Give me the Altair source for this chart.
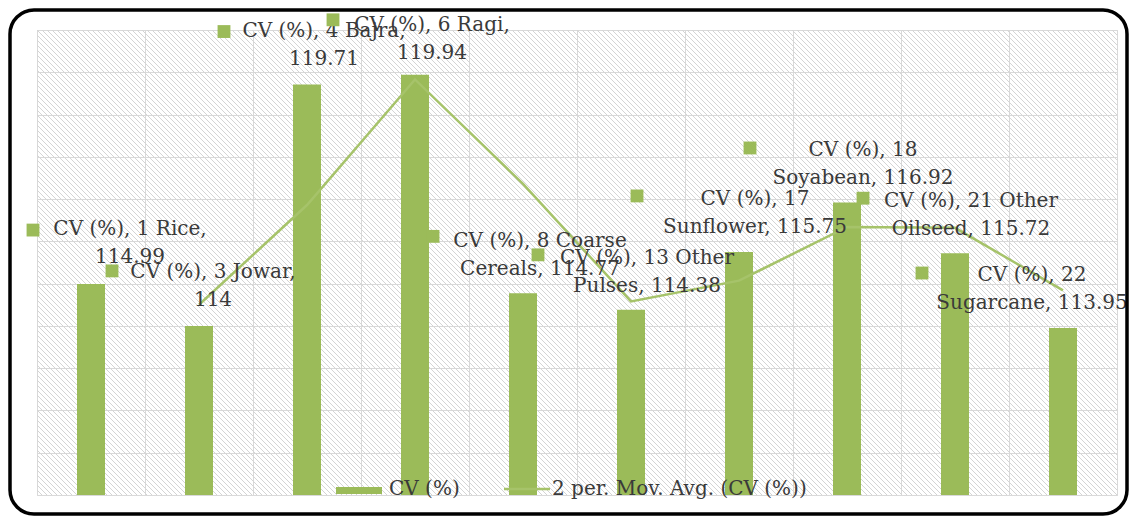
import altair as alt
import numpy as np
import pandas as pd

# ---------------- data ----------------
categories = ["1 Rice", "3 Jowar", "4 Bajra", "6 Ragi", "8 Coarse Cereals",
              "13 Other Pulses", "17 Sunflower", "18 Soyabean", "21 Other Oilseed",
              "22 Sugarcane"]
cv_values = [114.99, 114.00, 119.71, 119.94, 114.77, 114.38, 115.75, 116.92, 115.72, 113.95]
mov_avg = [None, 114.50, 116.86, 119.83, 117.36, 114.58, 115.07, 116.34, 116.32, 114.84]
series_name = "CV (%)"
legend_labels = ["CV (%)", "2 per. Mov. Avg. (CV (%))"]
y_ticks = list(range(110, 122))
# number of words on the first line of each data label
label_break_words = [4, 4, 4, 4, 4, 4, 3, 3, 4, 3]

# ---------------- styles ----------------
GREEN = "#9BBB59"
LINE_GREEN = "#A6C36A"
GRID = "#d9d9d9"
TEXT = "#3a3a3a"
FONT = "DejaVu Serif"
W, H = 1080, 465
# (dx, dy) of the first line of each label and of its legend-key square, relative to the bar top
label_offsets = [(39, -55), (14, -54), (17, -53.5), (17, -50), (17, -52), (16, -52),
                 (16, -53), (16, -52), (16, -52), (-31, -53.5)]
marker_offsets = [(-58, -54), (-87, -55), (-83, -53), (-82, -55), (-90, -57), (-93, -55),
                  (-102, -56), (-97, -54.5), (-92, -55), (-141, -55)]


def fmt(v):
    return f"{v:g}"


labels = []
for cat, v, k in zip(categories, cv_values, label_break_words):
    words = f"{series_name}, {cat}, {fmt(v)}".split(" ")
    labels.append(" ".join(words[:k]) + "\n" + " ".join(words[k:]))

df = pd.DataFrame({"category": categories, "cv": cv_values, "ma": mov_avg, "label": labels})

x_enc = alt.X("category:N", sort=categories,
              scale=alt.Scale(paddingInner=0, paddingOuter=0),
              axis=alt.Axis(labels=False, ticks=False, domain=False, title=None,
                            grid=True, gridColor=GRID, gridWidth=1, tickBand="extent"))
y_scale = alt.Scale(domain=[110, 121], nice=False, zero=False)
y_axis = alt.Axis(labels=False, ticks=False, domain=False, title=None, grid=True,
                  gridColor=GRID, gridWidth=1, values=y_ticks)

# background hatching (decoration)
hatch_start = np.arange(-H, W + 5, 5)
hatch_df = pd.DataFrame({"hx": hatch_start, "hx2": hatch_start + H,
                         "hy": 0, "hy2": H})
hatch = alt.Chart(hatch_df).mark_rule(color="#d4d4d4", strokeWidth=1, clip=True).encode(
    x=alt.X("hx:Q", scale=None, axis=None), x2="hx2:Q",
    y=alt.Y("hy:Q", scale=None, axis=None), y2="hy2:Q")

base = alt.Chart(df)
bars = base.mark_bar(size=28, color=GREEN, clip=True).encode(
    x=x_enc, y=alt.Y("cv:Q", scale=y_scale, axis=y_axis))
line = base.mark_line(color=LINE_GREEN, strokeWidth=2.5).encode(
    x=x_enc, y=alt.Y("ma:Q", scale=y_scale, axis=y_axis))

layers = [hatch, bars, line]
for i, cat in enumerate(categories):
    one = base.transform_filter(alt.datum.category == cat)
    mdx, mdy = marker_offsets[i]
    layers.append(one.mark_square(size=165, color=GREEN, opacity=1, filled=True,
                                  xOffset=mdx, yOffset=mdy).encode(
        x=x_enc, y=alt.Y("cv:Q", scale=y_scale, axis=y_axis)))
    ldx, ldy = label_offsets[i]
    layers.append(one.mark_text(font=FONT, fontSize=20, color=TEXT, align="center",
                                baseline="middle", lineBreak="\n", lineHeight=28,
                                dx=ldx, dy=ldy).encode(
        x=x_enc, y=alt.Y("cv:Q", scale=y_scale, axis=y_axis), text="label:N"))

# legend (drawn by hand, inside the bottom of the plot)
leg_df = pd.DataFrame({"label": legend_labels})
leg1 = alt.Chart(leg_df).transform_filter(alt.datum.label == legend_labels[0])
leg2 = alt.Chart(leg_df).transform_filter(alt.datum.label == legend_labels[1])
layers += [
    leg1.mark_rect(color=GREEN).encode(x=alt.value(299), x2=alt.value(345),
                                        y=alt.value(457), y2=alt.value(464)),
    leg1.mark_text(font=FONT, fontSize=20, color=TEXT, align="left", baseline="middle").encode(
        x=alt.value(352), y=alt.value(459), text="label:N"),
    leg2.mark_rule(color=LINE_GREEN, strokeWidth=2.5).encode(
        x=alt.value(467), x2=alt.value(513), y=alt.value(459)),
    leg2.mark_text(font=FONT, fontSize=20, color=TEXT, align="left", baseline="middle").encode(
        x=alt.value(515), y=alt.value(459), text="label:N"),
]

# rounded chart border (decoration)
border = alt.Chart(pd.DataFrame({"b": [0]})).mark_rect(
    fill="transparent", stroke="black", strokeWidth=3.5, cornerRadius=24, clip=False).encode(
    x=alt.value(-27), x2=alt.value(1090), y=alt.value(-20), y2=alt.value(484))
layers.append(border)

chart = alt.layer(*layers).properties(
    width=W, height=H,
    autosize=alt.AutoSizeParams(type="none"),
    padding={"left": 29, "top": 22, "right": 13, "bottom": 22},
    background="white",
).configure_view(stroke=GRID, strokeWidth=1)

chart.save("out.html", embed_options={"renderer": "svg", "actions": False})
